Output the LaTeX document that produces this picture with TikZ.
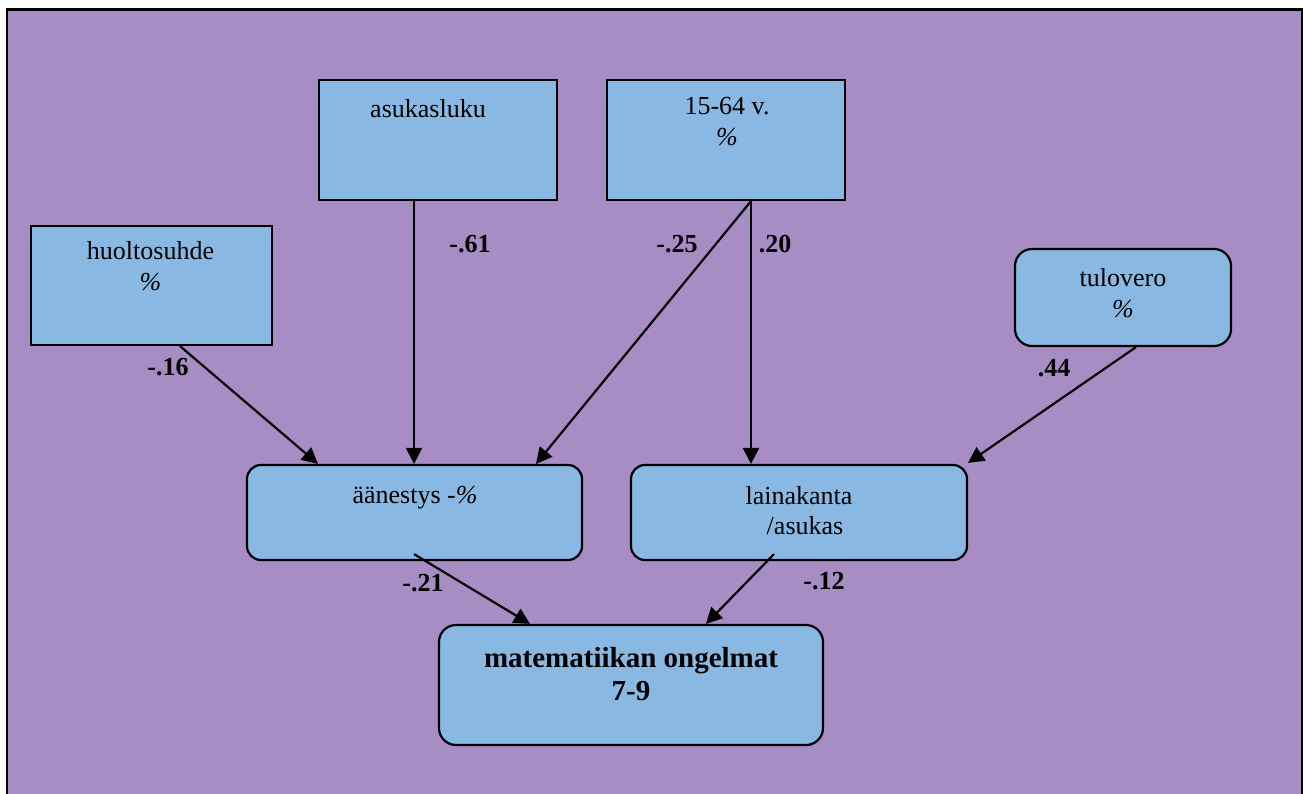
\documentclass[tikz,border=0pt]{standalone}
\usepackage{fontspec}
\setmainfont{Liberation Serif}
\usetikzlibrary{arrows.meta,calc}
\definecolor{bgpurple}{RGB}{168,140,196}
\definecolor{boxblue}{RGB}{137,185,227}
\newcommand{\twolines}[2]{\begin{tabular}[t]{@{}c@{}}#1\\#2\end{tabular}}
\begin{document}
\begin{tikzpicture}[x=1pt,y=-1pt,
  box/.style={draw=black, line width=2.2pt, fill=boxblue, inner sep=0pt},
  rbox/.style={box, rounded corners=14pt},
  rboxbig/.style={box, rounded corners=17pt},
  txt/.style={anchor=base, inner sep=0pt, font=\fontsize{26}{31}\selectfont},
  bigtxt/.style={anchor=base, inner sep=0pt, font=\fontsize{29}{33}\selectfont\bfseries},
  coef/.style={anchor=base, inner sep=0pt, font=\fontsize{26}{31}\selectfont\bfseries},
  link/.style={line width=2.2pt, -{Triangle[length=16pt,width=16pt]}}]

% canvas and framed background
\useasboundingbox (0,0) rectangle (1303,794);
\clip (0,0) rectangle (1303,794);
\fill[white] (0,0) rectangle (1303,794);
\draw[fill=bgpurple, line width=2.2pt] (7,9.5) rectangle (1302.5,810);

% boxes
\node[box, minimum width=241pt, minimum height=119pt] (hs) at (151.5,285.5) {};
\node[box, minimum width=238pt, minimum height=120pt] (as) at (438,140) {};
\node[box, minimum width=238pt, minimum height=120pt] (ag) at (726,140) {};
\node[rboxbig, minimum width=216pt, minimum height=97pt] (tv) at (1123,297.5) {};
\node[rbox, minimum width=335pt, minimum height=95pt] (aa) at (414.5,512.5) {};
\node[rbox, minimum width=336pt, minimum height=95pt] (lk) at (799,512.5) {};
\node[rboxbig, minimum width=384pt, minimum height=120pt] (mo) at (631,685) {};

% box texts
\node[txt] (hs-t) at (150.5,260) {\twolines{huoltosuhde}{\textit{\%}}};
\node[txt] (as-t) at (428,118) {asukasluku};
\node[txt] (ag-t) at (727,115) {\twolines{15-64 v.}{\textit{\%}}};
\node[txt] (tv-t) at (1123,287) {\twolines{tulovero}{\textit{\%}}};
\node[txt] (aa-t) at (415,503) {äänestys -\textit{\%}};
\node[txt] (lk-t) at (799,504) {lainakanta};
\node[txt] (lk-t2) at (805,534) {/asukas};
\node[bigtxt] (mo-t) at (631,667) {\twolines{matematiikan ongelmat}{7-9}};

% connectors
\draw[link] ([xshift=28.5pt]hs.south) -- ([xshift=-96.5pt]aa.north);
\draw[link] ([xshift=-24pt]as.south) -- ([xshift=-0.5pt]aa.north);
\draw[link] ([xshift=25pt]ag.south) -- ([xshift=121.5pt]aa.north);
\draw[link] ([xshift=25pt]ag.south) -- ([xshift=-48pt]lk.north);
\draw[link] ([xshift=13pt]tv.south) -- ([xshift=169pt,yshift=1pt]lk.north);
\draw[link] ([xshift=-0.5pt,yshift=7pt]aa.south) -- ([xshift=-101pt]mo.north);
\draw[link] ([xshift=-25pt,yshift=7pt]lk.south) -- ([xshift=75pt]mo.north);

% path coefficients
\node[coef] (c-hs) at (168,375) {-.16};
\node[coef] (c-as) at (470,253) {-.61};
\node[coef] (c-ag1) at (677,253) {-.25};
\node[coef] (c-ag2) at (775,253) {.20};
\node[coef] (c-tv) at (1054,376) {.44};
\node[coef] (c-aa) at (423,591) {-.21};
\node[coef] (c-lk) at (824,589) {-.12};
\end{tikzpicture}
\end{document}
